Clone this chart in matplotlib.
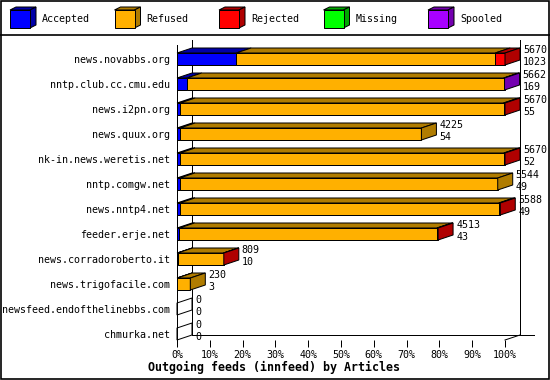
import matplotlib
matplotlib.use('Agg')
import matplotlib.pyplot as plt
from matplotlib.patches import Rectangle, Polygon

# donnees (articles par peer)
hosts = ['news.novabbs.org', 'nntp.club.cc.cmu.edu', 'news.i2pn.org', 'news.quux.org',
         'nk-in.news.weretis.net', 'nntp.comgw.net', 'news.nntp4.net', 'feeder.erje.net',
         'news.corradoroberto.it', 'news.trigofacile.com', 'newsfeed.endofthelinebbs.com',
         'chmurka.net']
offered = [5670, 5662, 5670, 4225, 5670, 5544, 5588, 4513, 809, 230, 0, 0]
accepted = [1023, 169, 55, 54, 52, 49, 49, 43, 10, 3, 0, 0]
refused = [4477, 5478, 5590, 4171, 5598, 5495, 5514, 4450, 794, 227, 0, 0]
rejected = [170, 0, 25, 0, 20, 0, 25, 20, 5, 0, 0, 0]
missing = [0, 0, 0, 0, 0, 0, 0, 0, 0, 0, 0, 0]
spooled = [0, 15, 0, 0, 0, 0, 0, 0, 0, 0, 0, 0]

series = ['Accepted', 'Refused', 'Rejected', 'Missing', 'Spooled']
colors = ['#0000FF', '#FFB000', '#FF0000', '#00FF00', '#A800FF']
dark = ['#0000A8', '#B07C00', '#B00000', '#00A800', '#7400B0']

FONT = 'DejaVu Sans Mono'
plt.rcParams['font.family'] = FONT
plt.rcParams['font.size'] = 7.2
LW = 0.72

W, H = 550, 380
fig = plt.figure(figsize=(W / 100, H / 100), dpi=100)

# cadre + legende (coordonnees en pixels)
frame = fig.add_axes([0, 0, 1, 1])
frame.set_xlim(0, W)
frame.set_ylim(H, 0)
frame.axis('off')
frame.add_patch(Rectangle((0.5, 0.5), W - 1.5, H - 1.5, fill=False, ec='black', lw=1.2))
frame.plot([0, W], [35, 35], color='black', lw=1.2)
for k, name in enumerate(series):
    x0 = 10 + k * 104.5
    frame.add_patch(Polygon([(x0, 10), (x0 + 20, 10), (x0 + 26, 7), (x0 + 6, 7)],
                            fc=dark[k], ec='black', lw=LW))
    frame.add_patch(Polygon([(x0 + 20, 10), (x0 + 20, 28), (x0 + 26, 25), (x0 + 26, 7)],
                            fc=dark[k], ec='black', lw=LW))
    frame.add_patch(Rectangle((x0, 10), 20, 18, fc=colors[k], ec='black', lw=LW))
    frame.text(x0 + 32, 19.5, name, va='center', ha='left')

# graphique principal
ax = fig.add_axes([177 / W, (H - 340) / H, 328 / W, 295 / H])
ax.patch.set_visible(False)
n = len(hosts)
ax.set_xlim(0, 100)
ax.set_ylim(n - 1 + 0.24, -0.56)
DX, DY = 15, 5
bh = 0.48


def off(x, y, px=0, py=0):
    X, Y = ax.transData.transform((x, y))
    return tuple(ax.transData.inverted().transform((X + px, Y + py)))


top_y = -0.56
bot_y = n - 1 + 0.24
# murs du fond
ax.plot(*zip(off(0, top_y, DX, DY), off(0, bot_y, DX, DY)), color='black', lw=LW,
        clip_on=False, zorder=1)
ax.plot(*zip(off(100, top_y, DX, DY), off(100, bot_y, DX, DY)), color='black', lw=LW,
        clip_on=False, zorder=1)
ax.plot(*zip(off(0, bot_y, DX, DY), off(100, bot_y, DX + 14, DY)), color='black', lw=LW,
        clip_on=False, zorder=1)
ax.plot(*zip((100, bot_y), off(100, bot_y, DX, DY)), color='black', lw=LW,
        clip_on=False, zorder=1)

vmax = max(offered)
for i in range(n):
    vals = [accepted[i], refused[i], rejected[i], missing[i], spooled[i]]
    top = i - bh / 2
    bot = i + bh / 2
    left = 0.0
    last = None
    for k, v in enumerate(vals):
        if v <= 0:
            continue
        w = v / vmax * 100
        ax.add_patch(Rectangle((left, top), w, bh, fc=colors[k], ec='black', lw=LW,
                               clip_on=False, zorder=3))
        ax.add_patch(Polygon([(left, top), (left + w, top), off(left + w, top, DX, DY),
                              off(left, top, DX, DY)], fc=dark[k], ec='black', lw=LW,
                             clip_on=False, zorder=3))
        left += w
        last = k
    side = [(left, top), (left, bot), off(left, bot, DX, DY), off(left, top, DX, DY)]
    if last is None:
        ax.add_patch(Polygon(side, fill=False, ec='black', lw=LW, clip_on=False, zorder=3))
    else:
        ax.add_patch(Polygon(side, fc=dark[last], ec='black', lw=LW, clip_on=False,
                             zorder=3))
    ax.annotate(str(offered[i]), xy=(left, i), xytext=(DX + 3, 9),
                textcoords='offset pixels', va='center', ha='left', annotation_clip=False)
    ax.annotate(str(accepted[i]), xy=(left, i), xytext=(DX + 3, -3),
                textcoords='offset pixels', va='center', ha='left', annotation_clip=False)

ax.set_yticks(range(n))
ax.set_yticklabels(hosts)
ax.tick_params(axis='y', length=0, pad=5)
ax.set_xticks(range(0, 101, 10))
ax.set_xticklabels([f'{t}%' for t in range(0, 101, 10)])
ax.tick_params(axis='x', length=5, width=LW, pad=2, direction='out')
for s in ['top', 'right', 'bottom']:
    ax.spines[s].set_visible(False)
ax.spines['left'].set_linewidth(LW)

fig.text(274 / W, (H - 367) / H, 'Outgoing feeds (innfeed) by Articles', ha='center',
         va='center', fontsize=8.4, fontweight='bold')

fig.savefig('out.png', dpi=100)
